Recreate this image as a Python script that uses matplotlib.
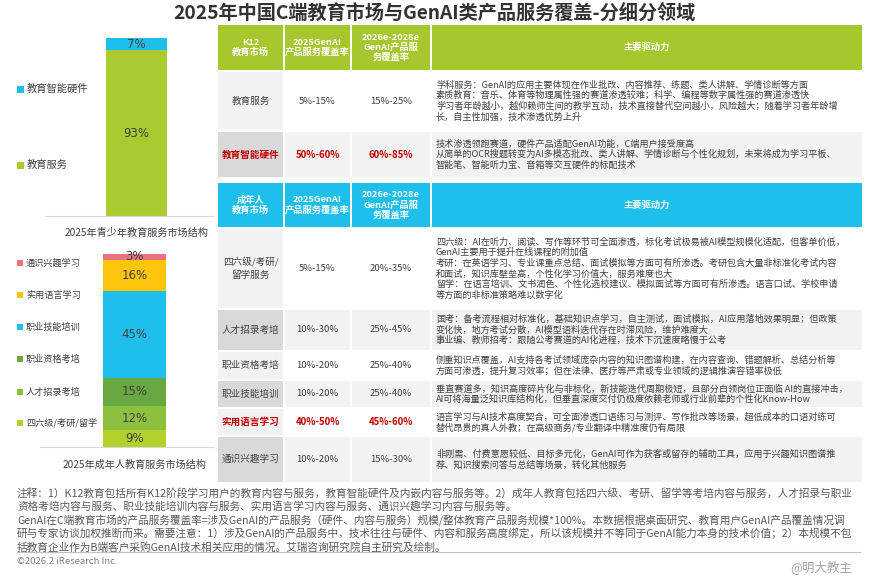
import matplotlib
matplotlib.use("Agg")
import matplotlib.pyplot as plt
import numpy as np
from matplotlib.patches import Rectangle

plt.rcParams["font.family"] = ["Noto Sans CJK SC", "DejaVu Sans"]

# ── Data ──────────────────────────────────────────────────────────────────────
TITLE = "2025年中国C端教育市场与GenAI类产品服务覆盖-分细分领域"

k12_segments = ["教育服务", "教育智能硬件"]
k12_shares = [93, 7]
k12_caption = "2025年青少年教育服务市场结构"

adult_segments = ["四六级/考研/留学", "人才招录考培", "职业资格考培",
                  "职业技能培训", "实用语言学习", "通识兴趣学习"]
adult_shares = [9, 12, 15, 45, 16, 3]
adult_caption = "2025年成年人教育服务市场结构"

k12_header = ["K12\n教育市场", "2025GenAI\n产品服务覆盖率",
              "2026e-2028e\nGenAI产品服\n务覆盖率", "主要驱动力"]
k12_rows = ["教育服务", "教育智能硬件"]
k12_rate_2025 = ["5%-15%", "50%-60%"]
k12_rate_2028 = ["15%-25%", "60%-85%"]
k12_highlight = [False, True]
k12_drivers = [
    ["学科服务：GenAI的应用主要体现在作业批改、内容推荐、练题、类人讲解、学情诊断等方面",
     "素质教育：音乐、体育等物理属性强的赛道渗透较难；科学、编程等数字属性强的赛道渗透快",
     "学习者年龄越小，越仰赖师生间的教学互动，技术直接替代空间越小，风险越大；随着学习者年龄增",
     "长，自主性加强，技术渗透优势上升"],
    ["技术渗透领跑赛道，硬件产品适配GenAI功能，C端用户接受度高",
     "从简单的OCR搜题转变为AI多模态批改、类人讲解、学情诊断与个性化规划，未来将成为学习平板、",
     "智能笔、智能听力宝、音箱等交互硬件的标配技术"],
]

adult_header = ["成年人\n教育市场", "2025GenAI\n产品服务覆盖率",
                "2026e-2028e\nGenAI产品服\n务覆盖率", "主要驱动力"]
adult_rows = ["四六级/考研/\n留学服务", "人才招录考培", "职业资格考培",
              "职业技能培训", "实用语言学习", "通识兴趣学习"]
adult_rate_2025 = ["5%-15%", "10%-30%", "10%-20%", "10%-20%", "40%-50%", "10%-20%"]
adult_rate_2028 = ["20%-35%", "25%-45%", "25%-40%", "25%-40%", "45%-60%", "15%-30%"]
adult_highlight = [False, False, False, False, True, False]
adult_drivers = [
    ["四六级：AI在听力、阅读、写作等环节可全面渗透，标化考试极易被AI模型规模化适配，但客单价低，",
     "GenAI主要用于提升在线课程的附加值",
     "考研：在英语学习、专业课重点总结、面试模拟等方面可有所渗透。考研包含大量非标准化考试内容",
     "和面试，知识库壁垒高，个性化学习价值大，服务难度也大",
     "留学：在语言培训、文书润色、个性化选校建议、模拟面试等方面可有所渗透。语言口试、学校申请",
     "等方面的非标准策略难以数字化"],
    ["国考：备考流程相对标准化，基础知识点学习，自主测试，面试模拟，AI应用落地效果明显；但政策",
     "变化快，地方考试分散，AI模型语料迭代存在时滞风险，维护难度大",
     "事业编、教师招考：跟随公考赛道的AI化进程，技术下沉速度略慢于公考"],
    ["侧重知识点覆盖，AI支持各考试领域庞杂内容的知识图谱构建，在内容查询、错题解析、总结分析等",
     "方面可渗透，提升复习效率；但在法律、医疗等严肃或专业领域的逻辑推演容错率极低"],
    ["垂直赛道多，知识高度碎片化与非标化，新技能迭代周期极短，且部分白领岗位正面临 AI的直接冲击，",
     "AI可将海量泛知识库结构化，但垂直深度交付仍极度依赖老师或行业前辈的个性化Know-How"],
    ["语言学习与AI技术高度契合，可全面渗透口语练习与测评、写作批改等场景，超低成本的口语对练可",
     "替代昂贵的真人外教；在高级商务/专业翻译中精准度仍有局限"],
    ["非刚需、付费意愿较低、目标多元化，GenAI可作为获客或留存的辅助工具，应用于兴趣知识图谱推",
     "荐、知识搜索问答与总结等场景，转化其他服务"],
]

notes = [
    "注释：1）K12教育包括所有K12阶段学习用户的教育内容与服务，教育智能硬件及内嵌内容与服务等。2）成年人教育包括四六级、考研、留学等考培内容与服务，人才招录与职业",
    "资格考培内容与服务、职业技能培训内容与服务、实用语言学习内容与服务、通识兴趣学习内容与服务等。",
    "GenAI在C端教育市场的产品服务覆盖率=涉及GenAI的产品服务（硬件、内容与服务）规模/整体教育产品服务规模*100%。本数据根据桌面研究、教育用户GenAI产品覆盖情况调",
    "研与专家访谈加权推断而来。需要注意：1）涉及GenAI的产品服务中，技术往往与硬件、内容和服务高度绑定，所以该规模并不等同于GenAI能力本身的技术价值；2）本规模不包",
    "括教育企业作为B端客户采购GenAI技术相关应用的情况。艾瑞咨询研究院自主研究及绘制。",
]
SOURCE = "©2026.2 iResearch Inc."
WATERMARK = "@明大教主"

# ── Style ─────────────────────────────────────────────────────────────────────
W, H = 869, 585
GREEN = "#A6C82E"
CYAN = "#1FBFEB"
RED = "#C00000"
TEXT = "#404040"
k12_colors = ["#A9CB30", CYAN]
adult_colors = ["#B3D12B", "#8DC03F", "#68A843", CYAN, "#FFC50D", "#E8737F"]

COLS = [(218, 283), (285, 350), (352, 430), (432, 862)]


def px_axes(fig, x0, y0, x1, y1):
    """Axes placed by pixel box (top-left origin)."""
    return fig.add_axes([x0 / W, 1 - y1 / H, (x1 - x0) / W, (y1 - y0) / H])


def stacked_bar(fig, box, center, width, shares, colors):
    ax = px_axes(fig, *box)
    bottoms = np.concatenate([[0], np.cumsum(shares)[:-1]])
    for s, b, c in zip(shares, bottoms, colors):
        ax.bar(center, s, bottom=b, width=width, color=c, linewidth=0)
        ax.text(center, b + s / 2, f"{s}%", ha="center", va="center",
                fontsize=8.5, color=TEXT, family="DejaVu Sans")
    ax.set_xlim(box[0], box[2])
    ax.set_ylim(0, 100)
    for side in ("top", "left", "right"):
        ax.spines[side].set_visible(False)
    ax.spines["bottom"].set_color("#D9D9D9")
    ax.set_xticks([])
    ax.set_yticks([])
    ax.patch.set_alpha(0)
    return ax


def draw_table(ax, header_box, row_bounds, header, names, r25, r28,
               drivers, highlight, header_color):
    y0, y1 = header_box
    for (x0, x1), label in zip(COLS, header):
        ax.add_patch(Rectangle((x0, y0), x1 - x0, y1 - y0, color=header_color, lw=0))
        ax.text((x0 + x1) / 2, (y0 + y1) / 2, label, ha="center", va="center",
                color="white", fontsize=6.7, fontweight="bold", linespacing=1.15)

    for i, (top, bot) in enumerate(row_bounds):
        first = "#F2F2F2" if i % 2 == 0 else "#D9D9D9"
        rest = "#FFFFFF" if i % 2 == 0 else "#F2F2F2"
        for j, (x0, x1) in enumerate(COLS):
            ax.add_patch(Rectangle((x0, top), x1 - x0, bot - top,
                                   color=first if j == 0 else rest, lw=0))
        cy = (top + bot) / 2
        hl = highlight[i]
        kw = dict(ha="center", va="center", fontsize=6.9,
                  color=RED if hl else TEXT,
                  fontweight="bold" if hl else "normal")
        for j, val in enumerate([names[i], r25[i], r28[i]]):
            x0, x1 = COLS[j]
            ax.text((x0 + x1) / 2, cy, val, linespacing=1.3, **kw)
        lines = drivers[i]
        step = 10.6
        start = cy - (len(lines) - 1) * step / 2
        for k, line in enumerate(lines):
            ax.text(436, start + k * step, line, ha="left", va="center",
                    fontsize=6.6, color=TEXT)


def main():
    fig = plt.figure(figsize=(W / 100, H / 100), dpi=100)
    base = fig.add_axes([0, 0, 1, 1])
    base.set_xlim(0, W)
    base.set_ylim(H, 0)
    base.axis("off")

    base.text(W / 2, 13, TITLE, ha="center", va="center", fontsize=13.8,
              fontweight="bold", color="#333333")

    # Left: market structure bars
    stacked_bar(fig, (45, 38, 213, 216), 136.5, 61, k12_shares, k12_colors)
    stacked_bar(fig, (40, 254, 213, 447), 134.5, 63, adult_shares, adult_colors)

    base.text(137, 233, k12_caption, ha="center", va="center", fontsize=7.3, color=TEXT)
    base.text(135, 465, adult_caption, ha="center", va="center", fontsize=7.3, color=TEXT)

    for name, color, y in zip(k12_segments, k12_colors, [165, 89]):
        base.add_patch(Rectangle((17, y - 3.5), 7, 7, color=color, lw=0))
        base.text(27, y, name, ha="left", va="center", fontsize=7.4, color=TEXT)
    for name, color, y in zip(adult_segments, adult_colors, [423, 392, 359, 327, 295, 263]):
        base.add_patch(Rectangle((17, y - 3), 6, 6, color=color, lw=0))
        base.text(26, y, name, ha="left", va="center", fontsize=6.6, color=TEXT)

    # Right: tables
    draw_table(base, (25, 70), [(72, 130), (132, 177)], k12_header, k12_rows,
               k12_rate_2025, k12_rate_2028, k12_drivers, k12_highlight, GREEN)
    draw_table(base, (183, 227),
               [(229, 308), (310, 350), (352, 379), (381, 407), (409, 435), (437, 482)],
               adult_header, adult_rows, adult_rate_2025, adult_rate_2028,
               adult_drivers, adult_highlight, CYAN)

    # Footnotes
    for k, line in enumerate(notes):
        base.text(17, 493 + k * 13.5, line, ha="left", va="center",
                  fontsize=7.7, color="#595959")
    base.plot([17, 860], [552, 552], color="#BFBFBF", lw=0.8)
    base.text(17, 561, SOURCE, ha="left", va="center", fontsize=6.8, color="#7F7F7F")
    base.text(852, 567, WATERMARK, ha="right", va="center", fontsize=9, color="#A6A6A6")

    fig.savefig("out.png", dpi=100)
    plt.close(fig)


if __name__ == "__main__":
    main()
